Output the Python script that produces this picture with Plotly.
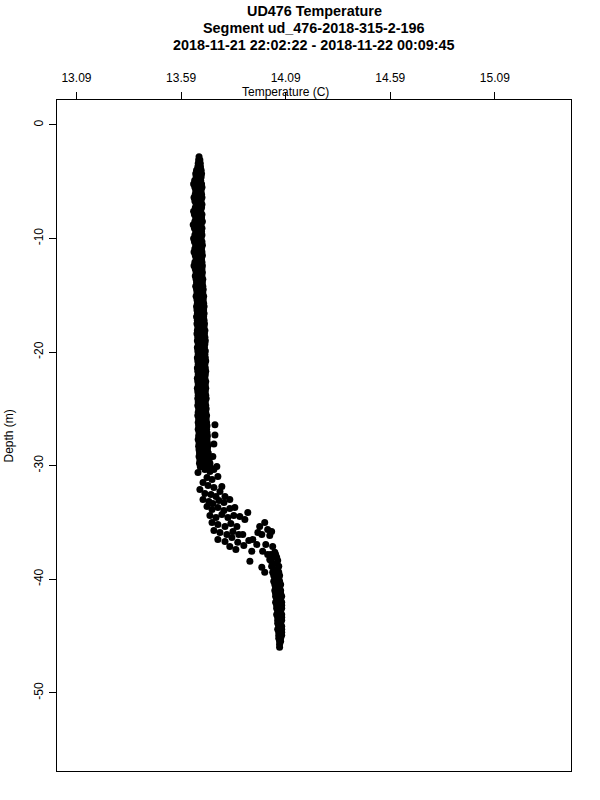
import plotly.graph_objects as go

# ---- data ----
x_tick_vals = [13.09, 13.59, 14.09, 14.59, 15.09]
x_tick_text = ["13.09", "13.59", "14.09", "14.59", "15.09"]
y_tick_vals = [0, -10, -20, -30, -40, -50]
y_tick_text = ["0", "-10", "-20", "-30", "-40", "-50"]

# top of the profile
top_depth = [-2.8, -3.1, -3.1, -3.4, -3.4, -3.7, -3.7]
top_temp = [13.676, 13.674, 13.680, 13.672, 13.682, 13.670, 13.683]

# upper well-mixed column: three samples per depth row
col_depth = [-4.0, -4.3, -4.6, -4.9, -5.2, -5.5, -5.8, -6.1, -6.4, -6.7, -7.0, -7.3,
             -7.6, -7.9, -8.2, -8.5, -8.8, -9.1, -9.4, -9.7, -10.0, -10.3, -10.6, -10.9,
             -11.2, -11.5, -11.8, -12.1, -12.4, -12.7, -13.0, -13.3, -13.6, -13.9, -14.2,
             -14.5, -14.8, -15.1, -15.4, -15.7, -16.0, -16.3, -16.6, -16.9, -17.2, -17.5,
             -17.8, -18.1, -18.4, -18.7, -19.0, -19.3, -19.6, -19.9, -20.2, -20.5, -20.8,
             -21.1, -21.4, -21.7, -22.0, -22.3, -22.6, -22.9, -23.2, -23.5, -23.8, -24.1,
             -24.4, -24.7, -25.0, -25.3, -25.6, -25.9, -26.2, -26.5, -26.8, -27.1, -27.4,
             -27.7, -28.0, -28.3, -28.6, -28.9, -29.2, -29.5, -29.8, -30.1]
col_t_left = [13.664, 13.660, 13.662, 13.655, 13.650, 13.656, 13.660, 13.658, 13.652, 13.656,
              13.662, 13.658, 13.650, 13.654, 13.660, 13.656, 13.648, 13.654, 13.660, 13.656,
              13.650, 13.654, 13.660, 13.656, 13.652, 13.658, 13.662, 13.656, 13.652, 13.658,
              13.662, 13.658, 13.662, 13.664, 13.660, 13.664, 13.666, 13.662, 13.666, 13.668,
              13.664, 13.666, 13.668, 13.664, 13.668, 13.666, 13.670, 13.668, 13.666, 13.670,
              13.668, 13.672, 13.668, 13.670, 13.672, 13.668, 13.670, 13.672, 13.668, 13.670,
              13.672, 13.668, 13.670, 13.672, 13.668, 13.670, 13.672, 13.670, 13.672, 13.670,
              13.674, 13.672, 13.670, 13.674, 13.672, 13.674, 13.672, 13.676, 13.674, 13.672,
              13.676, 13.674, 13.676, 13.678, 13.676, 13.680, 13.678, 13.682]
col_t_mid = [13.676, 13.672, 13.678, 13.670, 13.668, 13.674, 13.676, 13.670, 13.668, 13.674,
             13.676, 13.672, 13.666, 13.670, 13.676, 13.672, 13.666, 13.672, 13.676, 13.670,
             13.668, 13.672, 13.676, 13.670, 13.668, 13.674, 13.676, 13.672, 13.668, 13.674,
             13.676, 13.672, 13.678, 13.676, 13.674, 13.680, 13.678, 13.676, 13.682, 13.680,
             13.678, 13.684, 13.682, 13.680, 13.684, 13.682, 13.686, 13.684, 13.682, 13.688,
             13.684, 13.688, 13.686, 13.684, 13.688, 13.686, 13.690, 13.686, 13.688, 13.690,
             13.686, 13.688, 13.690, 13.688, 13.686, 13.690, 13.688, 13.692, 13.688, 13.690,
             13.692, 13.690, 13.692, 13.690, 13.694, 13.692, 13.690, 13.694, 13.692, 13.696,
             13.694, 13.692, 13.698, 13.696, 13.700, 13.702, 13.704, 13.706]
col_t_right = [13.686, 13.688, 13.686, 13.684, 13.688, 13.690, 13.686, 13.688, 13.690, 13.686,
               13.690, 13.688, 13.684, 13.690, 13.688, 13.692, 13.686, 13.690, 13.688, 13.690,
               13.686, 13.690, 13.692, 13.688, 13.690, 13.692, 13.688, 13.690, 13.692, 13.690,
               13.692, 13.690, 13.694, 13.692, 13.694, 13.696, 13.694, 13.698, 13.696, 13.698,
               13.700, 13.698, 13.700, 13.698, 13.700, 13.702, 13.700, 13.704, 13.702, 13.704,
               13.706, 13.704, 13.702, 13.706, 13.704, 13.706, 13.708, 13.704, 13.706, 13.708,
               13.706, 13.704, 13.708, 13.706, 13.708, 13.706, 13.708, 13.710, 13.706, 13.708,
               13.710, 13.708, 13.712, 13.710, 13.712, 13.714, 13.712, 13.714, 13.716, 13.714,
               13.716, 13.718, 13.716, 13.720, 13.722, 13.724, 13.728, 13.730]

# scattered warm points just above the thermocline
outlier_depth = [-26.4, -27.3, -28.1, -29.2]
outlier_temp = [13.752, 13.752, 13.747, 13.742]

# thermocline, upper part
tc_upper_depth = [-30.61, -32.10, -30.34, -30.52, -30.34, -30.08, -31.05, -31.22, -30.96, -31.49,
                  -31.75, -31.93, -31.84, -32.45, -32.54, -32.72, -32.72, -32.28, -32.98, -33.16,
                  -33.33, -33.07, -33.25, -32.98]
tc_upper_temp = [13.671, 13.680, 13.704, 13.728, 13.747, 13.761, 13.714, 13.738, 13.766, 13.695,
                 13.719, 13.747, 13.785, 13.704, 13.733, 13.757, 13.800, 13.776, 13.695, 13.723,
                 13.742, 13.771, 13.795, 13.823]

# thermocline, middle part
tc_mid_depth = [-33.60, -33.86, -33.69, -33.95, -33.77, -33.69, -34.39, -34.56, -34.30, -34.56,
                -34.39, -34.48, -35.00, -35.18, -35.36, -35.09, -35.36, -35.71, -35.88, -36.06,
                -35.80, -36.06, -36.50, -36.68, -36.32, -36.76, -37.03, -37.12, -37.38, -34.12,
                -34.74, -36.06, -36.59]
tc_mid_temp = [13.714, 13.738, 13.766, 13.795, 13.823, 13.847, 13.728, 13.757, 13.785, 13.814,
               13.842, 13.871, 13.738, 13.766, 13.800, 13.828, 13.857, 13.747, 13.776, 13.809,
               13.838, 13.866, 13.766, 13.800, 13.833, 13.861, 13.890, 13.823, 13.852, 13.909,
               13.895, 13.885, 13.914]

# thermocline, warm side
tc_warm_depth = [-35.00, -35.36, -35.88, -36.06, -35.62, -35.80, -36.15, -36.50, -36.94, -37.55,
                 -38.43, -37.55, -37.82, -38.26, -38.96, -39.40, -37.12, -37.64, -36.94]
tc_warm_temp = [13.990, 13.966, 13.957, 13.976, 14.004, 14.023, 14.014, 13.933, 13.952, 13.928,
                13.919, 13.980, 14.004, 14.014, 13.976, 13.990, 14.028, 14.038, 13.995]

# bottom layer: two samples per depth row
bot_depth = [-37.82, -38.08, -38.35, -38.61, -38.87, -39.14, -39.40, -39.67, -39.93, -40.19,
             -40.46, -40.72, -40.99, -41.25, -41.51, -41.78, -42.04, -42.30, -42.57, -42.83,
             -43.10, -43.36, -43.62, -43.89, -44.15, -44.42, -44.68, -44.94, -45.21, -45.47]
bot_t_left = [14.019, 14.023, 14.019, 14.028, 14.023, 14.033, 14.028, 14.033, 14.038, 14.033,
              14.038, 14.042, 14.038, 14.042, 14.042, 14.047, 14.042, 14.047, 14.047, 14.052,
              14.047, 14.052, 14.052, 14.052, 14.057, 14.052, 14.057, 14.057, 14.057, 14.061]
bot_t_right = [14.042, 14.047, 14.052, 14.047, 14.057, 14.052, 14.057, 14.061, 14.057, 14.061,
               14.066, 14.061, 14.066, 14.066, 14.071, 14.066, 14.071, 14.071, 14.071, 14.066,
               14.071, 14.071, 14.071, 14.066, 14.071, 14.071, 14.071, 14.071, 14.066, 14.066]
end_depth = [-45.73, -46.00]
end_temp = [14.061, 14.061]

# ---- assemble ----
temps = list(top_temp)
depths = list(top_depth)
for d, a, b, c in zip(col_depth, col_t_left, col_t_mid, col_t_right):
    depths += [d, d, d]
    temps += [a, b, c]
temps += outlier_temp + tc_upper_temp + tc_mid_temp + tc_warm_temp
depths += outlier_depth + tc_upper_depth + tc_mid_depth + tc_warm_depth
for d, a, b in zip(bot_depth, bot_t_left, bot_t_right):
    depths += [d, d]
    temps += [a, b]
temps += end_temp
depths += end_depth

FONT = "Liberation Sans, Arial, Helvetica, sans-serif"

fig = go.Figure()
fig.add_trace(go.Scatter(
    x=temps, y=depths, mode="markers",
    marker=dict(color="black", size=7, line=dict(width=0)),
    hoverinfo="x+y", showlegend=False,
))

fig.update_layout(
    width=600, height=800,
    margin=dict(l=57, r=29, t=100, b=29),
    paper_bgcolor="white", plot_bgcolor="white",
    font=dict(family=FONT, size=12, color="black"),
    xaxis=dict(
        side="top", range=[12.997, 15.454],
        tickvals=x_tick_vals, ticktext=x_tick_text,
        ticks="outside", ticklen=7, tickwidth=1, tickcolor="black",
        ticklabelstandoff=5,
        showline=True, linecolor="black", linewidth=1, mirror=True,
        showgrid=False, zeroline=False,
        tickfont=dict(family=FONT, size=12, color="black"),
    ),
    yaxis=dict(
        range=[-56.89, 2.19],
        tickvals=y_tick_vals, ticktext=y_tick_text, tickangle=-90,
        ticks="outside", ticklen=7, tickwidth=1, tickcolor="black",
        ticklabelstandoff=1,
        showline=True, linecolor="black", linewidth=1, mirror=True,
        showgrid=False, zeroline=False,
        tickfont=dict(family=FONT, size=12, color="black"),
    ),
)

title_lines = [
    ("<b>UD476 Temperature</b>", 1.1326),
    ("<b>Segment ud_476-2018-315-2-196</b>", 1.1073),
    ("<b>2018-11-21 22:02:22 - 2018-11-22 00:09:45</b>", 1.0820),
]
for txt, yy in title_lines:
    fig.add_annotation(text=txt, xref="paper", yref="paper", x=0.5, y=yy,
                       xanchor="center", yanchor="middle", showarrow=False,
                       font=dict(family=FONT, size=14.4, color="black"))

fig.add_annotation(text="Temperature (C)", xref="paper", yref="paper",
                   x=0.4436, y=1.0125, xanchor="center", yanchor="middle",
                   showarrow=False, font=dict(family=FONT, size=12, color="black"))
fig.add_annotation(text="Depth (m)", xref="paper", yref="paper",
                   x=-0.0934, y=0.5, xanchor="center", yanchor="middle",
                   textangle=-90, showarrow=False,
                   font=dict(family=FONT, size=12, color="black"))

# remove the browser's default 8px body margin so the figure sits at the page origin
fig.write_html("out.html", config={"displayModeBar": False},
               post_script="document.body.style.margin='0px';")
